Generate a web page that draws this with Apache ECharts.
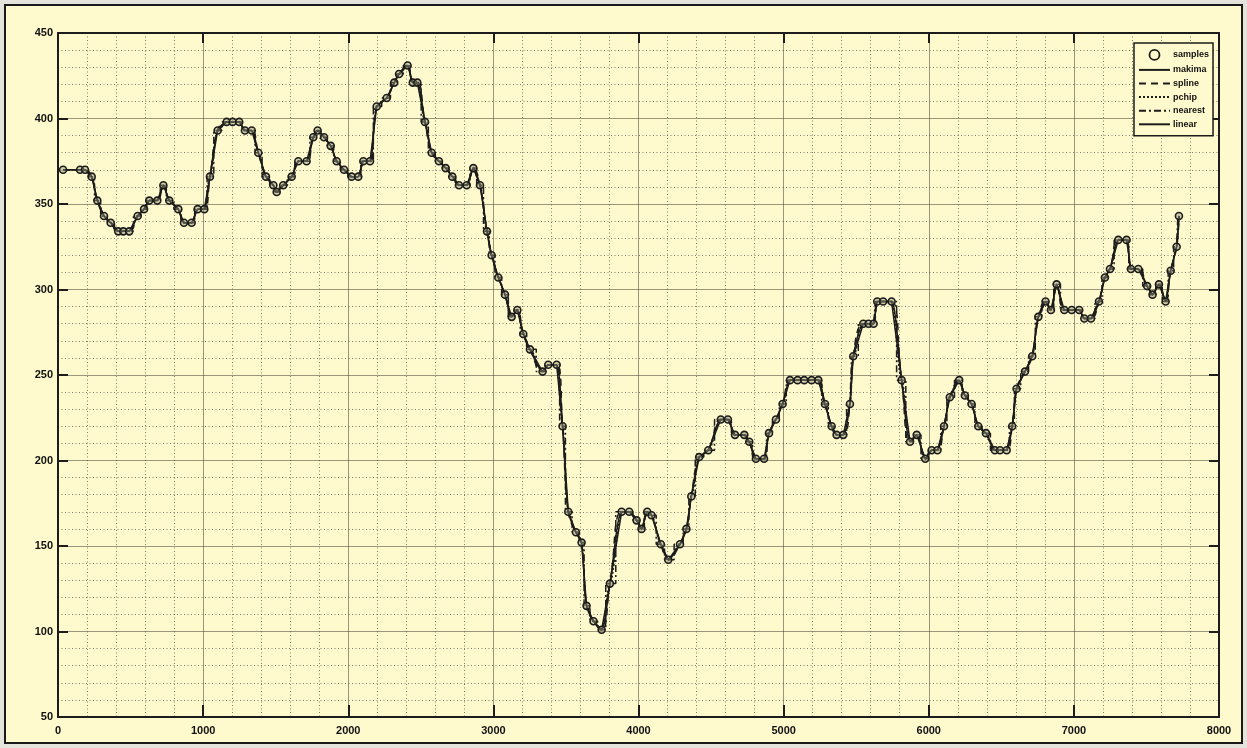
<!DOCTYPE html>
<html>
<head>
<meta charset="utf-8">
<script src="https://cdn.jsdelivr.net/npm/echarts@6/dist/echarts.min.js"></script>
<style>
  html, body { margin: 0; padding: 0; width: 1247px; height: 748px; background: #e4e4dc; overflow: hidden; }
  #frame { position: absolute; left: 4px; top: 4px; width: 1239px; height: 740px; box-sizing: border-box;
           border: 2px solid #1a1a1a; background: #fffacd; }
  #chart { position: absolute; left: 0; top: 0; width: 1247px; height: 748px; }
</style>
</head>
<body>
<div id="frame"></div>
<div id="chart"></div>
<script>
// Sample positions and values
const sampleX = [35, 152, 186, 232, 271, 317, 363, 415, 450, 491, 549, 593, 629, 684, 726, 767, 829, 868, 921, 962,
  1008, 1047, 1100, 1162, 1203, 1249, 1288, 1335, 1380, 1433, 1484, 1507, 1552, 1610, 1656, 1713, 1759, 1789, 1833, 1879,
  1920, 1971, 2023, 2069, 2104, 2150, 2196, 2265, 2317, 2350, 2409, 2445, 2476, 2529, 2575, 2625, 2671, 2717, 2763, 2816,
  2862, 2908, 2956, 2988, 3034, 3080, 3126, 3165, 3206, 3252, 3339, 3378, 3436, 3477, 3516, 3569, 3608, 3642, 3690, 3746,
  3803, 3884, 3936, 3987, 4021, 4060, 4090, 4154, 4205, 4286, 4330, 4364, 4418, 4481, 4567, 4616, 4665, 4729, 4763, 4809,
  4865, 4899, 4947, 4993, 5044, 5096, 5142, 5193, 5239, 5285, 5331, 5365, 5411, 5457, 5480, 5549, 5585, 5620, 5645, 5686,
  5744, 5813, 5871, 5917, 5976, 6020, 6060, 6105, 6145, 6210, 6249, 6295, 6341, 6394, 6456, 6491, 6537, 6575, 6605, 6663,
  6713, 6755, 6805, 6842, 6881, 6934, 6985, 7037, 7072, 7118, 7173, 7214, 7249, 7306, 7363, 7393, 7444, 7505, 7542, 7586,
  7632, 7667, 7708, 7724];
const sampleY = [370, 370, 370, 366, 352, 343, 339, 334, 334, 334, 343, 347, 352, 352, 361, 352, 347, 339, 339, 347,
  347, 366, 393, 398, 398, 398, 393, 393, 380, 366, 361, 357, 361, 366, 375, 375, 389, 393, 389, 384,
  375, 370, 366, 366, 375, 375, 407, 412, 421, 426, 431, 421, 421, 398, 380, 375, 371, 366, 361, 361,
  371, 361, 334, 320, 307, 297, 284, 288, 274, 265, 252, 256, 256, 220, 170, 158, 152, 115, 106, 101,
  128, 170, 170, 165, 160, 170, 168, 151, 142, 151, 160, 179, 202, 206, 224, 224, 215, 215, 211, 201,
  201, 216, 224, 233, 247, 247, 247, 247, 247, 233, 220, 215, 215, 233, 261, 280, 280, 280, 293, 293,
  293, 247, 211, 215, 201, 206, 206, 220, 237, 247, 238, 233, 220, 216, 206, 206, 206, 220, 242, 252,
  261, 284, 293, 288, 303, 288, 288, 288, 283, 283, 293, 307, 312, 329, 329, 312, 312, 302, 297, 303,
  293, 311, 325, 343];

const legendNames = ['samples', 'makima', 'spline', 'pchip', 'nearest', 'linear'];
const xTicks = { min: 0, max: 8000, step: 1000 };
const yTicks = { min: 50, max: 450, step: 50 };

const pts = sampleX.map((x, i) => [x, sampleY[i]]);
const ink = '#1c1c1c';
const paper = '#fffacd';
const labelFont = { color: '#111', fontFamily: 'Liberation Sans, Arial, sans-serif', fontWeight: 'bold', fontSize: 11 };

function curve(name, type, extra) {
  return Object.assign({
    name: name, type: 'line', data: pts, showSymbol: false, symbol: 'none',
    lineStyle: { color: ink, width: 1.5, type: type }, itemStyle: { color: ink },
    z: 3, animation: false, silent: true
  }, extra || {});
}

const chart = echarts.init(document.getElementById('chart'), null, { renderer: 'canvas' });
chart.setOption({
  backgroundColor: 'transparent',
  animation: false,
  grid: { left: 58, top: 33, right: 28, bottom: 31, show: false },
  legend: {
    orient: 'vertical', left: 1134, top: 43,
    backgroundColor: paper, borderColor: ink, borderWidth: 1.5, borderRadius: 0,
    padding: [6, 4, 7, 4], itemWidth: 31, itemHeight: 10, itemGap: 4.6,
    textStyle: { color: '#111', fontFamily: 'Liberation Sans, Arial, sans-serif', fontWeight: 'bold', fontSize: 9, padding: [0, 0, 0, -2] },
    data: legendNames.map((n, i) => i === 0
      ? { name: n, icon: 'circle', itemStyle: { color: paper, borderColor: ink, borderWidth: 1.8, opacity: 1 } }
      : { name: n, itemStyle: { opacity: 0 } })
  },
  xAxis: [{
    type: 'value', min: xTicks.min, max: xTicks.max, interval: xTicks.step, position: 'bottom',
    axisLine: { show: true, onZero: false, lineStyle: { color: ink, width: 2 } },
    axisTick: { show: true, inside: true, length: 12, lineStyle: { color: ink, width: 2 } },
    axisLabel: Object.assign({ margin: 8, formatter: v => String(v) }, labelFont),
    splitLine: { show: true, lineStyle: { color: 'rgba(70,70,50,0.55)', width: 1 } },
    minorTick: { show: false, splitNumber: 5 },
    minorSplitLine: { show: true, lineStyle: { color: 'rgba(40,40,30,0.6)', width: 1, type: [1, 2.5] } }
  }, {
    type: 'value', min: xTicks.min, max: xTicks.max, interval: xTicks.step, position: 'top',
    axisLine: { show: true, onZero: false, lineStyle: { color: ink, width: 2 } },
    axisTick: { show: true, inside: true, length: 10, lineStyle: { color: ink, width: 2 } },
    axisLabel: { show: false }, splitLine: { show: false }
  }],
  yAxis: [{
    type: 'value', min: yTicks.min, max: yTicks.max, interval: yTicks.step, position: 'left',
    axisLine: { show: true, onZero: false, lineStyle: { color: ink, width: 2 } },
    axisTick: { show: true, inside: true, length: 10, lineStyle: { color: ink, width: 2 } },
    axisLabel: Object.assign({ margin: 5, formatter: v => String(v) }, labelFont),
    splitLine: { show: true, lineStyle: { color: 'rgba(70,70,50,0.55)', width: 1 } },
    minorTick: { show: false, splitNumber: 5 },
    minorSplitLine: { show: true, lineStyle: { color: 'rgba(40,40,30,0.6)', width: 1, type: [1, 2.5] } }
  }, {
    type: 'value', min: yTicks.min, max: yTicks.max, interval: yTicks.step, position: 'right',
    axisLine: { show: true, onZero: false, lineStyle: { color: ink, width: 2 } },
    axisTick: { show: true, inside: true, length: 10, lineStyle: { color: ink, width: 2 } },
    axisLabel: { show: false }, splitLine: { show: false }
  }],
  series: [
    {
      name: 'samples', type: 'line', data: pts, symbol: 'circle', symbolSize: 7,
      lineStyle: { width: 0, opacity: 0 },
      itemStyle: { color: 'rgba(150,150,120,0.45)', borderColor: ink, borderWidth: 1.6 },
      z: 5, animation: false, silent: true
    },
    curve('makima', 'solid', { smooth: 0.25 }),
    curve('spline', [7, 5], { smooth: 0.5 }),
    curve('pchip', [2, 2], { smooth: 0.35, smoothMonotone: 'x' }),
    curve('nearest', [7, 3, 2, 3], { step: 'middle' }),
    curve('linear', 'solid')
  ]
});
</script>
</body>
</html>
